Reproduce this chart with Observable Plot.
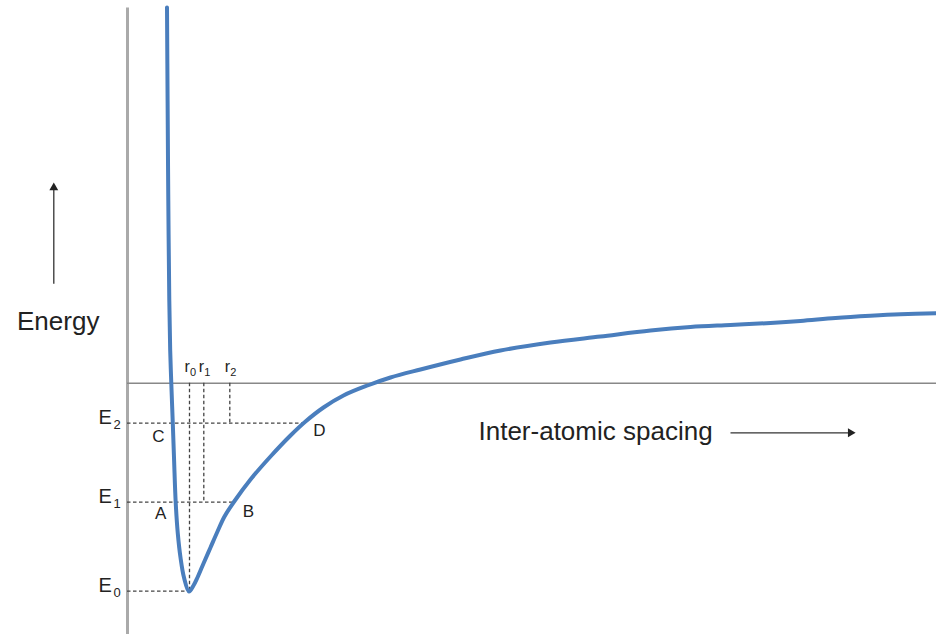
<!DOCTYPE html>
<html>
<head>
<meta charset="utf-8">
<script src="https://cdn.jsdelivr.net/npm/d3@7"></script>
<script src="https://cdn.jsdelivr.net/npm/@observablehq/plot@0.6"></script>
<style>
  html, body { margin: 0; padding: 0; background: #fff; }
  #chart svg { display: block; }
</style>
</head>
<body>
<div id="chart"></div>
<script>
// Potential energy of a pair of atoms against their separation (arbitrary units).
// Repulsive wall on the left, well at r0, attractive tail flattening to the right.
const spacing = [
  0.395, 0.401, 0.408, 0.418, 0.427, 0.438, 0.453, 0.466, 0.482, 0.503, 0.53, 0.565, 0.615,
  0.66, 0.70, 0.76, 0.83, 0.90, 0.97, 1.06, 1.23, 1.43, 1.63, 1.78, 1.96, 2.16,
  2.40, 2.63, 2.93, 3.33, 3.73, 4.23, 4.73, 5.23, 5.63, 6.03, 6.43, 6.73,
  7.08, 7.43, 7.73, 8.09
];
const energy = [
  3.757, 2.827, 1.827, 0.827, 0.327, -0.003, -0.403, -0.773, -1.193, -1.503, -1.743, -1.943, -2.083,
  -2.023, -1.943, -1.803, -1.643, -1.483, -1.333, -1.193, -0.963, -0.733, -0.523, -0.383, -0.243, -0.123,
  -0.023, 0.057, 0.137, 0.237, 0.327, 0.407, 0.467, 0.527, 0.562, 0.582, 0.602, 0.622,
  0.652, 0.674, 0.689, 0.70
];

// Energy levels E0, E1, E2 and the mean spacings r0, r1, r2 at each level
const levelIndex = ["0", "1", "2"];
const levelEnergy = [-2.08, -1.19, -0.40];
const levelSpacing = [0.62, 0.763, 1.023];
const levelRightEdge = [0.615, 1.06, 1.755];

// Turning points on the curve
const pointNames = ["A", "B", "C", "D"];
const pointSpacing = [0.482, 1.06, 0.453, 1.755];
const pointEnergy = [-1.19, -1.19, -0.40, -0.40];

const curve = spacing.map((r, i) => ({r, E: energy[i]}));
const levels = levelIndex.map((k, i) => ({
  k, E: levelEnergy[i], r: levelSpacing[i], rEdge: levelRightEdge[i]
}));
const points = pointNames.map((name, i) => ({name, r: pointSpacing[i], E: pointEnergy[i]}));

const ink = "#222";
const dash = {stroke: "#444", strokeWidth: 1.3, strokeDasharray: "3.5,2.5"};
const font = "Liberation Sans, Arial, Helvetica, sans-serif";

// Label offsets for the turning points (pixels)
const pointOffset = {A: [-15, 11], B: [15, 9], C: [-14.5, 13], D: [16.5, 7.5]};

const marks = [
  // energy axis
  Plot.ruleX([0], {y1: -2.6, y2: 3.752, stroke: "#aaa", strokeWidth: 3}),
  // zero-energy line
  Plot.ruleY([0], {x1: 0, x2: 8.2, stroke: "#888", strokeWidth: 1.5}),
  // dashed level lines and spacing drops
  Plot.ruleY(levels, {y: "E", x1: 0, x2: "rEdge", ...dash}),
  Plot.ruleX(levels, {x: "r", y1: 0, y2: "E", ...dash}),
  // the potential curve
  Plot.line(curve, {x: "r", y: "E", curve: "catmull-rom", stroke: "#4a7ebd", strokeWidth: 4, strokeLinejoin: "round", strokeLinecap: "round"}),
  // E labels with subscripts
  Plot.text(levels, {x: () => 0, y: "E", text: () => "E", textAnchor: "start", dx: -29, dy: -6, fontSize: 20, fill: ink}),
  Plot.text(levels, {x: () => 0, y: "E", text: "k", textAnchor: "start", dx: -14, dy: 2, fontSize: 13, fill: ink}),
  // r labels with subscripts
  Plot.text(levels, {x: "r", y: () => 0, text: () => "r", textAnchor: "start", dx: -5, dy: -16, fontSize: 16, fill: ink}),
  Plot.text(levels, {x: "r", y: () => 0, text: "k", textAnchor: "start", dx: 0.5, dy: -10.5, fontSize: 11, fill: ink}),
  // turning point letters
  ...pointNames.map((name) => Plot.text(points.filter((p) => p.name === name), {
    x: "r", y: "E", text: "name", dx: pointOffset[name][0], dy: pointOffset[name][1], fontSize: 17, fill: ink
  })),
  // axis captions
  Plot.text(["Energy"], {x: -1.105, y: 0.614, text: (d) => d, textAnchor: "start", fontSize: 26, fill: ink}),
  Plot.text(["Inter-atomic spacing"], {x: 3.51, y: -0.486, text: (d) => d, textAnchor: "start", fontSize: 26, fill: ink}),
  // direction arrows
  Plot.link([{x: -0.737, y1: 0.994, y2: 1.955}], {x1: "x", x2: "x", y1: "y1", y2: "y2", stroke: "#333", strokeWidth: 1.3}),
  Plot.dot([{x: -0.737, y: 1.955}], {x: "x", y: "y", symbol: "triangle", r: 3.3, fill: "#222", stroke: "none"}),
  Plot.link([{y: -0.496, x1: 6.03, x2: 7.23}], {x1: "x1", x2: "x2", y1: "y", y2: "y", stroke: "#333", strokeWidth: 1.3}),
  Plot.dot([{x: 7.23, y: -0.496}], {x: "x", y: "y", symbol: "triangle", rotate: 90, r: 3.3, fill: "#222", stroke: "none"})
];

const chart = Plot.plot({
  width: 936,
  height: 634,
  margin: 0,
  style: {fontFamily: font, background: "#fff", overflow: "visible"},
  x: {domain: [-1.27, 8.09], axis: null},
  y: {domain: [-2.513, 3.827], axis: null},
  marks
});
document.getElementById("chart").append(chart);
</script>
</body>
</html>
